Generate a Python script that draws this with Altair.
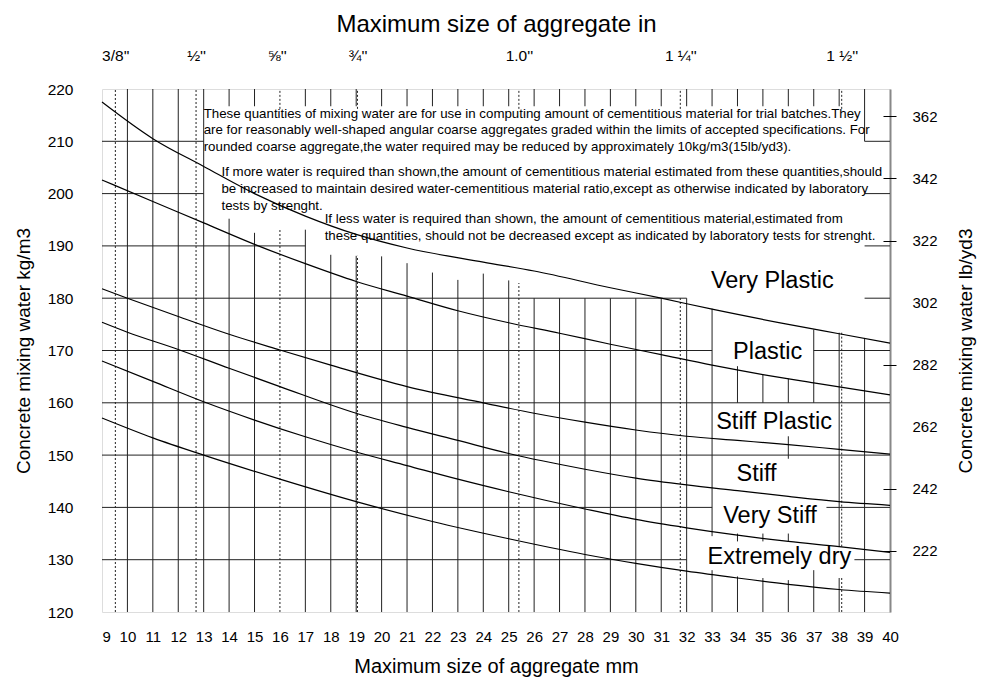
import altair as alt
import pandas as pd

# ---------------- axis values ----------------
mm_ticks = list(range(9, 41))
inch_pos = [9.525, 12.7, 15.875, 19.05, 25.4, 31.75, 38.1]
inch_labels = ["3/8''", "½''", "⅝''", "¾''", "1.0''", "1 ¼''", "1 ½''"]
kg_ticks = list(range(120, 221, 10))
lb_ticks = [202, 222, 242, 262, 282, 302, 322, 342, 362]
lb_cross_ticks = [222, 242, 282, 322, 342, 362]
KG_TO_LB = 1.6856

# ---------------- curves (mm, kg/m3) ----------------
curve_names = ["Very Plastic", "Plastic", "Stiff Plastic", "Stiff", "Very Stiff", "Extremely dry"]
very_plastic_x = [9, 11, 13, 15, 17, 19, 21, 24, 26, 29, 31, 33, 36, 38, 40]
very_plastic_y = [217.5, 210.5, 205.2, 200.0, 195.7, 192.2, 189.6, 186.9, 185.2, 182.0, 180.0, 177.9, 175.0, 173.2, 171.4]
plastic_x = [9, 11, 13, 15, 17, 19, 21, 23, 25, 27, 29, 31, 33, 35, 37, 40]
plastic_y = [202.6, 198.5, 194.4, 190.3, 186.6, 183.2, 180.4, 177.6, 175.3, 173.3, 171.2, 169.2, 167.2, 165.4, 163.8, 161.5]
stiff_plastic_x = [9, 10, 12, 14, 16, 18, 21, 24, 26, 28, 30, 32, 34, 36, 38, 40]
stiff_plastic_y = [181.8, 180.0, 176.5, 173.1, 170.1, 167.2, 163.1, 160.0, 158.0, 156.3, 154.8, 153.6, 152.8, 152.0, 151.1, 150.2]
stiff_x = [9, 10, 12, 14, 16, 19, 21, 23, 25, 28, 30, 32, 34, 36, 38, 40]
stiff_y = [175.4, 173.5, 170.2, 166.6, 163.1, 158.0, 155.3, 152.8, 150.3, 147.3, 145.6, 144.3, 143.2, 142.1, 141.1, 140.4]
very_stiff_x = [9, 11, 13, 15, 17, 19, 21, 23, 25, 28, 30, 32, 34, 36, 38, 40]
very_stiff_y = [168.0, 164.1, 160.2, 156.7, 153.5, 150.6, 148.0, 145.4, 143.0, 139.7, 137.7, 136.1, 134.7, 133.5, 132.5, 131.4]
extremely_dry_x = [9, 11, 13, 16, 19, 22, 25, 28, 30, 32, 34, 36, 38, 40]
extremely_dry_y = [157.1, 153.3, 150.0, 145.4, 141.1, 137.3, 134.0, 131.0, 129.3, 127.8, 126.5, 125.3, 124.3, 123.6]

# curve label anchors (mm, kg/m3)
label_x = [35.37, 35.19, 35.44, 34.75, 35.28, 35.65]
label_y = [183.2, 169.8, 156.4, 146.35, 138.4, 130.6]

# ---------------- notes ----------------
note_1 = ["These quantities of mixing water are for use in computing amount of cementitious material for trial batches.They",
          "are for reasonably well-shaped angular coarse aggregates graded within the limits of accepted specifications. For",
          "rounded coarse aggregate,the water required may be reduced by approximately 10kg/m3(15lb/yd3)."]
note_2 = ["If more water is required than shown,the amount of cementitious material estimated from these quantities,should",
          "be increased to maintain desired water-cementitious material ratio,except as otherwise indicated by laboratory",
          "tests by strenght."]
note_3 = ["If less water is required than shown, the amount of cementitious material,estimated from",
          "these quantities, should not be decreased except as indicated by laboratory tests for strenght."]
note_x = [13.0, 13.7, 17.76]
note_y = [215.3, 204.05, 195.1]
note_step = 3.2

# ---------------- grid segments (mm / kg/m3) ----------------
v_solid = [
    (10, 120, 220), (11, 120, 220), (12, 120, 220), (13, 120, 220),
    (14, 120, 195.2), (15, 120, 192.5), (17, 120, 193.1), (18, 120, 188.3),
    (19, 120, 188.1), (20, 120, 188.0), (21, 120, 186.7), (22, 120, 184.9),
    (23, 120, 183.5), (24, 120, 184.7), (25, 120, 183.4),
    (26, 120, 180), (27, 120, 180), (28, 120, 180), (29, 120, 180),
    (30, 120, 180), (31, 120, 180), (32, 120, 180),
    (33, 134.5, 178), (33, 120, 128),
    (34, 160, 167), (34, 133.5, 135), (34, 120, 126.8),
    (35, 160, 165.4), (35, 133.5, 135), (35, 120, 126.5),
    (36, 160, 164.6), (36, 149.3, 153.6), (36, 133.5, 135), (36, 120, 126.1),
    (37, 160, 174), (37, 120, 128),
    (38, 132.5, 173.4), (38, 120, 126.5),
    (39, 210, 220), (39, 120, 172.4),
]
stub_x = [14, 15] + list(range(17, 39))
v_dashed = [
    (9.525, 120, 220), (12.7, 120, 220),
    (16, 120, 193.4), (16, 216.2, 220),
    (19.05, 120, 188.1), (19.05, 216.2, 220),
    (25.4, 120, 182.9), (25.4, 216.2, 220),
    (31.75, 120, 180), (31.75, 216.2, 220),
    (38.1, 132.5, 173.4), (38.1, 120, 126.5), (38.1, 216.2, 220),
]
h_seg = [
    (210, 9, 13), (210, 39, 40), (200, 9, 13), (200, 39, 40),
    (190, 9, 17), (190, 39, 40), (180, 9, 32), (180, 39, 40),
    (170, 9, 33), (170, 37, 40), (160, 9, 40), (150, 9, 40),
    (140, 9, 33), (140, 37.5, 40), (130, 9, 32), (130, 38.6, 40),
]

# ---------------- tables ----------------
vdf = pd.DataFrame(v_solid + [(x, 216.7, 220) for x in stub_x], columns=["x", "lo", "hi"])
ddf = pd.DataFrame(v_dashed, columns=["x", "lo", "hi"])
hdf = pd.DataFrame(h_seg, columns=["y", "lo", "hi"])

curves = [(very_plastic_x, very_plastic_y), (plastic_x, plastic_y), (stiff_plastic_x, stiff_plastic_y),
          (stiff_x, stiff_y), (very_stiff_x, very_stiff_y), (extremely_dry_x, extremely_dry_y)]
cdf = pd.concat([pd.DataFrame({"mm": cx, "kg": cy, "curve": n}) for n, (cx, cy) in zip(curve_names, curves)])
ldf = pd.DataFrame({"x": label_x, "y": label_y, "text": curve_names})
rows = []
for notes, nx, ny in zip([note_1, note_2, note_3], note_x, note_y):
    for i, t in enumerate(notes):
        rows.append({"x": nx, "y": ny - i * note_step, "text": t})
ndf = pd.DataFrame(rows)

FONT = "Liberation Sans"
XS = alt.Scale(domain=[9, 40], nice=False, zero=False)
YS = alt.Scale(domain=[120, 220], nice=False, zero=False)
LBS = alt.Scale(domain=[120 * KG_TO_LB, 220 * KG_TO_LB], nice=False, zero=False)

inch_expr = " : ".join(f'abs(datum.value - {p}) < 0.01 ? "{l}"' for p, l in zip(inch_pos, inch_labels)) + ' : ""'

grid_v = alt.Chart(vdf).mark_rule(color="#222", strokeWidth=1).encode(
    x=alt.X("x:Q", scale=XS, axis=alt.Axis(orient="bottom", values=mm_ticks, ticks=False, domain=False,
            labelPadding=17, labelFontSize=15, labelFont=FONT, labelOverlap=False, labelFlush=False,
            labelAlign={"condition": {"test": "datum.value <= 9", "value": "left"}, "value": "center"},
            title="Maximum size of aggregate mm",
            titleFont=FONT, titleFontSize=20, titleFontWeight="normal", titlePadding=12, grid=False)),
    y=alt.Y("lo:Q", scale=YS, axis=alt.Axis(orient="left", values=kg_ticks, ticks=False, domain=False,
            labelPadding=29, labelFontSize=15.5, labelFont=FONT, labelOverlap=False,
            title="Concrete mixing water kg/m3",
            titleFont=FONT, titleFontSize=19, titleFontWeight="normal", titlePadding=14, grid=False)),
    y2="hi:Q",
)
grid_d = alt.Chart(ddf).mark_rule(color="#222", strokeWidth=1, strokeDash=[2, 2]).encode(
    x=alt.X("x:Q", scale=XS, axis=None), y=alt.Y("lo:Q", scale=YS, axis=None), y2="hi:Q")
grid_h = alt.Chart(hdf).mark_rule(color="#222", strokeWidth=1).encode(
    y=alt.Y("y:Q", scale=YS, axis=None), x=alt.X("lo:Q", scale=XS, axis=None), x2="hi:Q")

lines = alt.Chart(cdf).mark_line(color="black", strokeWidth=1.2, interpolate="monotone").encode(
    x=alt.X("mm:Q", scale=XS, axis=None), y=alt.Y("kg:Q", scale=YS, axis=None), detail="curve:N")

labels = alt.Chart(ldf).mark_text(font=FONT, fontSize=23.5, color="black", align="center", baseline="middle").encode(
    x=alt.X("x:Q", scale=XS, axis=None), y=alt.Y("y:Q", scale=YS, axis=None), text="text:N")

notes = alt.Chart(ndf).mark_text(font=FONT, fontSize=13.3, color="black", align="left", baseline="middle").encode(
    x=alt.X("x:Q", scale=XS, axis=None), y=alt.Y("y:Q", scale=YS, axis=None), text="text:N")

top_axis = alt.Chart(pd.DataFrame({"x": inch_pos})).mark_point(opacity=0).encode(
    x=alt.X("x:Q", scale=XS, axis=alt.Axis(orient="top", values=inch_pos, labelExpr=inch_expr, ticks=False,
            domain=False, labelPadding=26, labelFontSize=15.5, labelFont=FONT, labelOverlap=False,
            title="Maximum size of aggregate in",
            titleFont=FONT, titleFontSize=24, titleFontWeight="normal", titlePadding=12, grid=False)),
    y=alt.Y("x:Q", axis=None))

right_axis = alt.Chart(pd.DataFrame({"lb": lb_ticks})).mark_point(opacity=0).encode(
    y=alt.Y("lb:Q", scale=LBS, axis=alt.Axis(orient="right", values=lb_ticks, ticks=False, domain=True,
            domainColor="#888", domainWidth=2, labelPadding=22, labelFontSize=15, labelFont=FONT,
            labelOverlap=False,
            title="Concrete mixing water lb/yd3", titleAngle=270, titleFont=FONT, titleFontSize=19,
            titleFontWeight="normal", titlePadding=38, grid=False)),
    x=alt.X("lb:Q", axis=None))

right_ticks = alt.Chart(pd.DataFrame({"lb": lb_cross_ticks})).mark_point(opacity=0).encode(
    y=alt.Y("lb:Q", scale=LBS, axis=alt.Axis(orient="right", values=lb_cross_ticks, ticks=True, tickSize=13,
            tickColor="black", tickWidth=1, offset=-7, labels=False, domain=False, title=None, grid=False)),
    x=alt.X("lb:Q", axis=None))

chart = alt.layer(grid_v, grid_d, grid_h, lines, labels, notes, top_axis, right_axis, right_ticks).resolve_scale(
    x="independent", y="independent"
).properties(
    width=788, height=523,
    autosize=alt.AutoSizeParams(type="none"),
    padding={"left": 94, "top": 81, "right": 87, "bottom": 68},
).configure_view(stroke="black", strokeWidth=1).configure(background="white")

chart.save("out.html", embed_options={"renderer": "svg", "actions": False})
